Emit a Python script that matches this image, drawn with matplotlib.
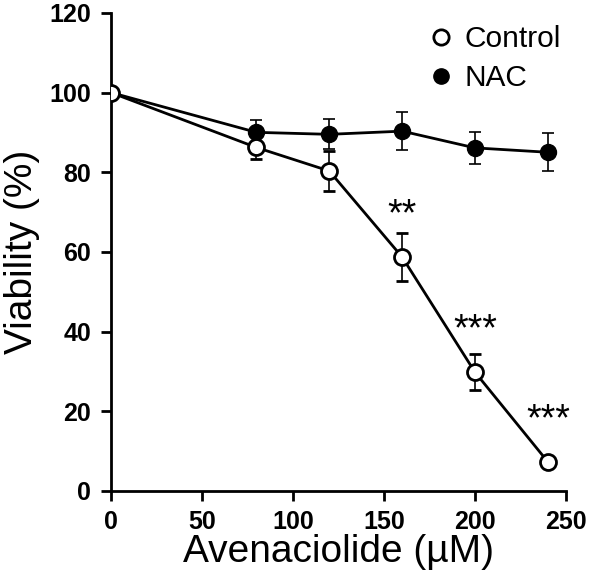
import matplotlib
matplotlib.use("Agg")
import matplotlib.pyplot as plt
from matplotlib.lines import Line2D

plt.rcParams['font.family'] = ['Liberation Sans', 'DejaVu Sans']

conc = [0, 80, 120, 160, 200, 240]
control = [100, 86.2, 80.3, 58.7, 29.8, 7.3]
control_err = [0, 3.0, 5.0, 6.0, 4.6, 0.8]
nac = [100, 90.0, 89.5, 90.3, 86.1, 85.0]
nac_err = [0, 3.0, 3.8, 4.7, 4.0, 4.8]
signif = ["", "", "", "**", "***", "***"]
xticks = [0, 50, 100, 150, 200, 250]
yticks = [0, 20, 40, 60, 80, 100, 120]

fig = plt.figure(figsize=(5.89, 5.83), dpi=100)
ax = fig.add_axes([0.188, 0.158, 0.773, 0.82])

ax.errorbar(conc, nac, yerr=nac_err, color='black', marker='o', markersize=11.5,
            markerfacecolor='black', markeredgecolor='black', linewidth=2,
            elinewidth=1.2, capsize=4, capthick=1.2, label='NAC', zorder=3)
ax.errorbar(conc, control, yerr=control_err, color='black', marker='o', markersize=11.5,
            markerfacecolor='white', markeredgecolor='black', markeredgewidth=2,
            linewidth=2, elinewidth=1.2, capsize=4, capthick=1.2, label='Control', zorder=4)

for x, y, s in zip(conc, control, signif):
    if s:
        ax.annotate(s, (x, y), xytext=(0, 30), textcoords='offset points',
                    ha='center', va='center', fontsize=27)

ax.set_xlim(0, 250)
ax.set_ylim(0, 120)
ax.set_xticks(xticks)
ax.set_yticks(yticks)
ax.tick_params(labelsize=18, width=2, length=7, direction='out', pad=7)
for lab in ax.get_xticklabels() + ax.get_yticklabels():
    lab.set_fontweight('bold')
for side in ['top', 'right']:
    ax.spines[side].set_visible(False)
for side in ['left', 'bottom']:
    ax.spines[side].set_linewidth(2)
ax.set_xlabel('Avenaciolide (\u00b5M)', fontsize=28, labelpad=0)
ax.set_ylabel('Viability (%)', fontsize=28, labelpad=7)

lc = Line2D([], [], marker='o', linestyle='none', markersize=11, markerfacecolor='white',
            markeredgecolor='black', markeredgewidth=2)
ln = Line2D([], [], marker='o', linestyle='none', markersize=11, markerfacecolor='black',
            markeredgecolor='black')
ax.legend([lc, ln], ['Control', 'NAC'], loc='upper left', bbox_to_anchor=(0.731, 0.957),
          bbox_transform=fig.transFigure,
          frameon=False, fontsize=21.5, handlelength=0.7, handletextpad=0.45,
          labelspacing=0.38, borderaxespad=0, borderpad=0)

fig.savefig('out.png', dpi=100)
